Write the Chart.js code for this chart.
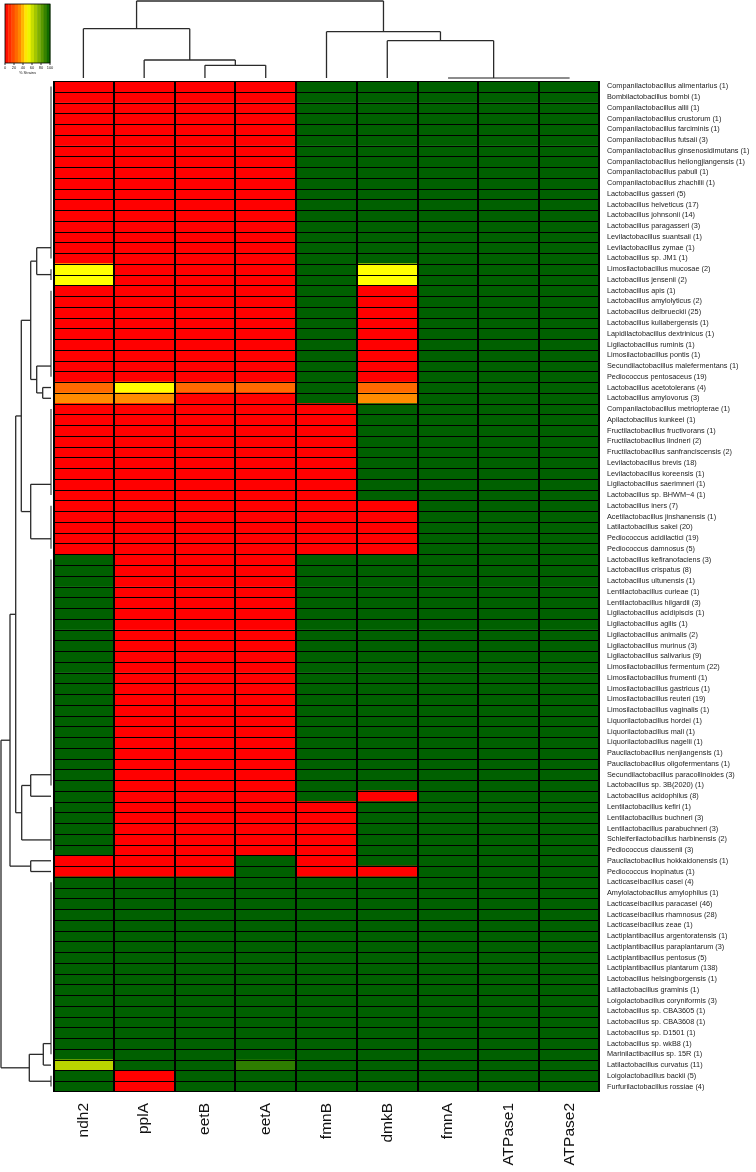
<!DOCTYPE html>
<html>
<head>
<meta charset="utf-8">
<script src="https://cdn.jsdelivr.net/npm/chart.js@4.4.1/dist/chart.umd.min.js"></script>
<style>
  body { margin: 0; background: #fff; }
  #wrap { width: 756px; height: 1172px; position: relative; }
</style>
</head>
<body>
<div id="wrap"><canvas id="heatmap"></canvas></div>
<script>
const genes = ['ndh2', 'pplA', 'eetB', 'eetA', 'fmnB', 'dmkB', 'fmnA', 'ATPase1', 'ATPase2'];

const species = [
    'Companilactobacillus alimentarius (1)', 'Bombilactobacillus bombi (1)', 'Companilactobacillus allii (1)',
    'Companilactobacillus crustorum (1)', 'Companilactobacillus farciminis (1)', 'Companilactobacillus futsaii (3)',
    'Companilactobacillus ginsenosidimutans (1)', 'Companilactobacillus heilongjiangensis (1)', 'Companilactobacillus pabuli (1)',
    'Companilactobacillus zhachilii (1)', 'Lactobacillus gasseri (5)', 'Lactobacillus helveticus (17)',
    'Lactobacillus johnsonii (14)', 'Lactobacillus paragasseri (3)', 'Levilactobacillus suantsaii (1)',
    'Levilactobacillus zymae (1)', 'Lactobacillus sp. JM1 (1)', 'Limosilactobacillus mucosae (2)',
    'Lactobacillus jensenii (2)', 'Lactobacillus apis (1)', 'Lactobacillus amylolyticus (2)',
    'Lactobacillus delbrueckii (25)', 'Lactobacillus kullabergensis (1)', 'Lapidilactobacillus dextrinicus (1)',
    'Ligilactobacillus ruminis (1)', 'Limosilactobacillus pontis (1)', 'Secundilactobacillus malefermentans (1)',
    'Pediococcus pentosaceus (19)', 'Lactobacillus acetotolerans (4)', 'Lactobacillus amylovorus (3)',
    'Companilactobacillus metriopterae (1)', 'Apilactobacillus kunkeei (1)', 'Fructilactobacillus fructivorans (1)',
    'Fructilactobacillus lindneri (2)', 'Fructilactobacillus sanfranciscensis (2)', 'Levilactobacillus brevis (18)',
    'Levilactobacillus koreensis (1)', 'Ligilactobacillus saerimneri (1)', 'Lactobacillus sp. BHWM\u22124 (1)',
    'Lactobacillus iners (7)', 'Acetilactobacillus jinshanensis (1)', 'Latilactobacillus sakei (20)',
    'Pediococcus acidilactici (19)', 'Pediococcus damnosus (5)', 'Lactobacillus kefiranofaciens (3)',
    'Lactobacillus crispatus (8)', 'Lactobacillus ultunensis (1)', 'Lentilactobacillus curieae (1)',
    'Lentilactobacillus hilgardii (3)', 'Ligilactobacillus acidipiscis (1)', 'Ligilactobacillus agilis (1)',
    'Ligilactobacillus animalis (2)', 'Ligilactobacillus murinus (3)', 'Ligilactobacillus salivarius (9)',
    'Limosilactobacillus fermentum (22)', 'Limosilactobacillus frumenti (1)', 'Limosilactobacillus gastricus (1)',
    'Limosilactobacillus reuteri (19)', 'Limosilactobacillus vaginalis (1)', 'Liquorilactobacillus hordei (1)',
    'Liquorilactobacillus mali (1)', 'Liquorilactobacillus nagelii (1)', 'Paucilactobacillus nenjiangensis (1)',
    'Paucilactobacillus oligofermentans (1)', 'Secundilactobacillus paracollinoides (3)', 'Lactobacillus sp. 3B(2020) (1)',
    'Lactobacillus acidophilus (8)', 'Lentilactobacillus kefiri (1)', 'Lentilactobacillus buchneri (3)',
    'Lentilactobacillus parabuchneri (3)', 'Schleiferilactobacillus harbinensis (2)', 'Pediococcus claussenii (3)',
    'Paucilactobacillus hokkaidonensis (1)', 'Pediococcus inopinatus (1)', 'Lacticaseibacillus casei (4)',
    'Amylolactobacillus amylophilus (1)', 'Lacticaseibacillus paracasei (46)', 'Lacticaseibacillus rhamnosus (28)',
    'Lacticaseibacillus zeae (1)', 'Lactiplantibacillus argentoratensis (1)', 'Lactiplantibacillus paraplantarum (3)',
    'Lactiplantibacillus pentosus (5)', 'Lactiplantibacillus plantarum (138)', 'Lactobacillus helsingborgensis (1)',
    'Latilactobacillus graminis (1)', 'Loigolactobacillus coryniformis (3)', 'Lactobacillus sp. CBA3605 (1)',
    'Lactobacillus sp. CBA3608 (1)', 'Lactobacillus sp. D1501 (1)', 'Lactobacillus sp. wkB8 (1)',
    'Marinilactibacillus sp. 15R (1)', 'Latilactobacillus curvatus (11)', 'Loigolactobacillus backii (5)',
    'Furfurilactobacillus rossiae (4)'
];

// % strains carrying each gene, one row per species, columns in the order of genes
const strainPct = [
    [0, 0, 0, 0, 100, 100, 100, 100, 100],
    [0, 0, 0, 0, 100, 100, 100, 100, 100],
    [0, 0, 0, 0, 100, 100, 100, 100, 100],
    [0, 0, 0, 0, 100, 100, 100, 100, 100],
    [0, 0, 0, 0, 100, 100, 100, 100, 100],
    [0, 0, 0, 0, 100, 100, 100, 100, 100],
    [0, 0, 0, 0, 100, 100, 100, 100, 100],
    [0, 0, 0, 0, 100, 100, 100, 100, 100],
    [0, 0, 0, 0, 100, 100, 100, 100, 100],
    [0, 0, 0, 0, 100, 100, 100, 100, 100],
    [0, 0, 0, 0, 100, 100, 100, 100, 100],
    [0, 0, 0, 0, 100, 100, 100, 100, 100],
    [0, 0, 0, 0, 100, 100, 100, 100, 100],
    [0, 0, 0, 0, 100, 100, 100, 100, 100],
    [0, 0, 0, 0, 100, 100, 100, 100, 100],
    [0, 0, 0, 0, 100, 100, 100, 100, 100],
    [0, 0, 0, 0, 100, 100, 100, 100, 100],
    [50, 0, 0, 0, 100, 50, 100, 100, 100],
    [50, 0, 0, 0, 100, 50, 100, 100, 100],
    [0, 0, 0, 0, 100, 0, 100, 100, 100],
    [0, 0, 0, 0, 100, 0, 100, 100, 100],
    [0, 0, 0, 0, 100, 0, 100, 100, 100],
    [0, 0, 0, 0, 100, 0, 100, 100, 100],
    [0, 0, 0, 0, 100, 0, 100, 100, 100],
    [0, 0, 0, 0, 100, 0, 100, 100, 100],
    [0, 0, 0, 0, 100, 0, 100, 100, 100],
    [0, 0, 0, 0, 100, 0, 100, 100, 100],
    [0, 0, 0, 0, 100, 0, 100, 100, 100],
    [25, 50, 25, 25, 100, 25, 100, 100, 100],
    [33.3, 33.3, 0, 0, 100, 33.3, 100, 100, 100],
    [0, 0, 0, 0, 0, 100, 100, 100, 100],
    [0, 0, 0, 0, 0, 100, 100, 100, 100],
    [0, 0, 0, 0, 0, 100, 100, 100, 100],
    [0, 0, 0, 0, 0, 100, 100, 100, 100],
    [0, 0, 0, 0, 0, 100, 100, 100, 100],
    [0, 0, 0, 0, 0, 100, 100, 100, 100],
    [0, 0, 0, 0, 0, 100, 100, 100, 100],
    [0, 0, 0, 0, 0, 100, 100, 100, 100],
    [0, 0, 0, 0, 0, 100, 100, 100, 100],
    [0, 0, 0, 0, 0, 0, 100, 100, 100],
    [0, 0, 0, 0, 0, 0, 100, 100, 100],
    [0, 0, 0, 0, 0, 0, 100, 100, 100],
    [0, 0, 0, 0, 0, 0, 100, 100, 100],
    [0, 0, 0, 0, 0, 0, 100, 100, 100],
    [100, 0, 0, 0, 100, 100, 100, 100, 100],
    [100, 0, 0, 0, 100, 100, 100, 100, 100],
    [100, 0, 0, 0, 100, 100, 100, 100, 100],
    [100, 0, 0, 0, 100, 100, 100, 100, 100],
    [100, 0, 0, 0, 100, 100, 100, 100, 100],
    [100, 0, 0, 0, 100, 100, 100, 100, 100],
    [100, 0, 0, 0, 100, 100, 100, 100, 100],
    [100, 0, 0, 0, 100, 100, 100, 100, 100],
    [100, 0, 0, 0, 100, 100, 100, 100, 100],
    [100, 0, 0, 0, 100, 100, 100, 100, 100],
    [100, 0, 0, 0, 100, 100, 100, 100, 100],
    [100, 0, 0, 0, 100, 100, 100, 100, 100],
    [100, 0, 0, 0, 100, 100, 100, 100, 100],
    [100, 0, 0, 0, 100, 100, 100, 100, 100],
    [100, 0, 0, 0, 100, 100, 100, 100, 100],
    [100, 0, 0, 0, 100, 100, 100, 100, 100],
    [100, 0, 0, 0, 100, 100, 100, 100, 100],
    [100, 0, 0, 0, 100, 100, 100, 100, 100],
    [100, 0, 0, 0, 100, 100, 100, 100, 100],
    [100, 0, 0, 0, 100, 100, 100, 100, 100],
    [100, 0, 0, 0, 100, 100, 100, 100, 100],
    [100, 0, 0, 0, 100, 100, 100, 100, 100],
    [100, 0, 0, 0, 100, 0, 100, 100, 100],
    [100, 0, 0, 0, 0, 100, 100, 100, 100],
    [100, 0, 0, 0, 0, 100, 100, 100, 100],
    [100, 0, 0, 0, 0, 100, 100, 100, 100],
    [100, 0, 0, 0, 0, 100, 100, 100, 100],
    [100, 0, 0, 0, 0, 100, 100, 100, 100],
    [0, 0, 0, 100, 0, 100, 100, 100, 100],
    [0, 0, 0, 100, 0, 0, 100, 100, 100],
    [100, 100, 100, 100, 100, 100, 100, 100, 100],
    [100, 100, 100, 100, 100, 100, 100, 100, 100],
    [100, 100, 100, 100, 100, 100, 100, 100, 100],
    [100, 100, 100, 100, 100, 100, 100, 100, 100],
    [100, 100, 100, 100, 100, 100, 100, 100, 100],
    [100, 100, 100, 100, 100, 100, 100, 100, 100],
    [100, 100, 100, 100, 100, 100, 100, 100, 100],
    [100, 100, 100, 100, 100, 100, 100, 100, 100],
    [100, 100, 100, 100, 100, 100, 100, 100, 100],
    [100, 100, 100, 100, 100, 100, 100, 100, 100],
    [100, 100, 100, 100, 100, 100, 100, 100, 100],
    [100, 100, 100, 100, 100, 100, 100, 100, 100],
    [100, 100, 100, 100, 100, 100, 100, 100, 100],
    [100, 100, 100, 100, 100, 100, 100, 100, 100],
    [100, 100, 100, 100, 100, 100, 100, 100, 100],
    [100, 100, 100, 100, 100, 100, 100, 100, 100],
    [100, 100, 100, 100, 100, 100, 100, 100, 100],
    [63.6, 100, 100, 90.9, 100, 100, 100, 100, 100],
    [100, 0, 100, 100, 100, 100, 100, 100, 100],
    [100, 0, 100, 100, 100, 100, 100, 100, 100]
];

const legendTicks = [0, 20, 40, 60, 80, 100];

// identical rows are merged at height 0 (drawn grey)
function run(a, b) {
    let n = a;
    for (let i = a + 1; i <= b; i++) n = [n, i, 0];
    return n;
}

// [left, right, height]; numbers are row / column indexes
const rowTree = [
    [
        [
            [
                [[run(0, 16), run(17, 18), 14.3], [run(19, 27), [28, 29, 8.3], 14.3], 20.3],
                [run(30, 38), run(39, 43), 20.3],
                29.7
            ],
            [[run(44, 65), 66, 20.3], run(67, 71), 29.3],
            35.3
        ],
        [72, 73, 20.3],
        41
    ],
    [[run(74, 90), 91, 7.7], run(92, 93), 21.7],
    50
];

const colTree = [
    [0, [1, [2, 3, 12.7], 18], 49.3],
    [4, [5, [6, [7, 8, 0], 0], 37.3], 46.3],
    77
];

const colorStops = [[0, [255, 0, 0]], [33.3, [255, 140, 0]], [50, [255, 255, 0]], [100, [0, 96, 0]]];

function pctColor(v) {
    for (let i = 1; i < colorStops.length; i++) {
        const [v0, c0] = colorStops[i - 1];
        const [v1, c1] = colorStops[i];
        if (v <= v1) {
            const t = (v - v0) / (v1 - v0);
            const c = c0.map((k, j) => Math.round(k + (c1[j] - k) * t));
            return `rgb(${c[0]},${c[1]},${c[2]})`;
        }
    }
    return 'rgb(0,96,0)';
}

const FONT = "'Liberation Sans', Arial, sans-serif";

function drawTree(ctx, node, pos, hpx, rows) {
    if (typeof node === 'number') return { p: pos(node), h: 0 };
    const [l, r, h] = node;
    const A = drawTree(ctx, l, pos, hpx, rows);
    const B = drawTree(ctx, r, pos, hpx, rows);
    ctx.strokeStyle = h === 0 ? '#8c8c8c' : '#2a2a2a';
    ctx.lineWidth = h === 0 ? 2 : 1.3;
    const seg = (p1, h1, p2, h2) => {
        ctx.beginPath();
        if (rows) { ctx.moveTo(hpx(h1), p1); ctx.lineTo(hpx(h2), p2); }
        else { ctx.moveTo(p1, hpx(h1)); ctx.lineTo(p2, hpx(h2)); }
        ctx.stroke();
    };
    if (h > A.h) seg(A.p, A.h, A.p, h);
    if (h > B.h) seg(B.p, B.h, B.p, h);
    seg(A.p, h, B.p, h);
    return { p: (A.p + B.p) / 2, h: h };
}

function drawLegend(ctx) {
    const x0 = 5, y0 = 4, w = 45, h = 59, bands = 14;
    for (let i = 0; i < bands; i++) {
        ctx.fillStyle = pctColor((i + 0.5) / bands * 100);
        ctx.fillRect(x0 + i * w / bands, y0, w / bands + 0.4, h);
    }
    ctx.strokeStyle = '#000';
    ctx.lineWidth = 0.8;
    ctx.strokeRect(x0, y0, w, h);
    ctx.fillStyle = '#222';
    ctx.font = `4px ${FONT}`;
    ctx.textAlign = 'center';
    ctx.textBaseline = 'top';
    legendTicks.forEach(t => {
        const tx = x0 + t / 100 * w;
        ctx.beginPath();
        ctx.moveTo(tx, y0 + h);
        ctx.lineTo(tx, y0 + h + 2);
        ctx.stroke();
        ctx.fillText(String(t), tx, y0 + h + 3);
    });
    ctx.fillText('% Strains', x0 + w / 2, y0 + h + 8);
}

// black cell outlines, snapped to whole pixels
const cellGridPlugin = {
    id: 'cellGrid',
    afterDatasetsDraw(chart) {
        const { ctx, chartArea: a, scales: { x, y } } = chart;
        ctx.save();
        ctx.fillStyle = '#000';
        for (let i = 0; i <= species.length; i++) {
            const yy = Math.round(y.getPixelForValue(i - 0.5));
            ctx.fillRect(a.left, Math.min(yy, a.bottom - 1), a.right - a.left, 1);
        }
        for (let j = 0; j <= genes.length; j++) {
            const xx = Math.round(x.getPixelForValue(j));
            ctx.fillRect(Math.min(Math.max(xx - 1, a.left), a.right - 2), a.top, 2, a.bottom - a.top);
        }
        ctx.restore();
    }
};

const dendroPlugin = {
    id: 'dendro',
    afterDraw(chart) {
        const { ctx, chartArea: a, scales: { x, y } } = chart;
        ctx.save();
        drawTree(ctx, rowTree, i => y.getPixelForValue(i), h => a.left - 2 - h, true);
        drawTree(ctx, colTree, j => x.getPixelForValue(j + 0.5), h => a.top - 3 - h, false);
        drawLegend(ctx);
        ctx.restore();
    }
};

const datasets = genes.map((g, j) => ({
    label: g,
    data: species.map(() => 1),
    backgroundColor: strainPct.map(r => pctColor(r[j])),
    borderWidth: 0,
    barPercentage: 1,
    categoryPercentage: 1
}));

new Chart(document.getElementById('heatmap'), {
    type: 'bar',
    data: { labels: species, datasets: datasets },
    options: {
        indexAxis: 'y',
        responsive: true,
        maintainAspectRatio: false,
        animation: false,
        layout: { padding: { left: 53, top: 81, right: 0, bottom: 0 } },
        plugins: {
            legend: { display: false },
            tooltip: { enabled: false }
        },
        scales: {
            x: {
                type: 'linear',
                min: 0,
                max: genes.length,
                stacked: true,
                grid: { display: false, drawTicks: false },
                border: { display: false },
                afterBuildTicks: axis => { axis.ticks = genes.map((g, i) => ({ value: i + 0.5 })); },
                afterFit: axis => { axis.height = 80; },
                ticks: {
                    autoSkip: false,
                    minRotation: 90,
                    maxRotation: 90,
                    padding: 11,
                    color: '#111',
                    font: { size: 15.5, family: FONT },
                    callback: (v, i) => genes[i]
                }
            },
            y: {
                type: 'category',
                position: 'right',
                stacked: true,
                grid: { display: false, drawTicks: false },
                border: { display: false },
                afterFit: axis => { axis.width = 156; },
                ticks: {
                    autoSkip: false,
                    padding: 7,
                    color: '#222',
                    font: { size: 7.3, family: FONT }
                }
            }
        }
    },
    plugins: [cellGridPlugin, dendroPlugin]
});
</script>
</body>
</html>
